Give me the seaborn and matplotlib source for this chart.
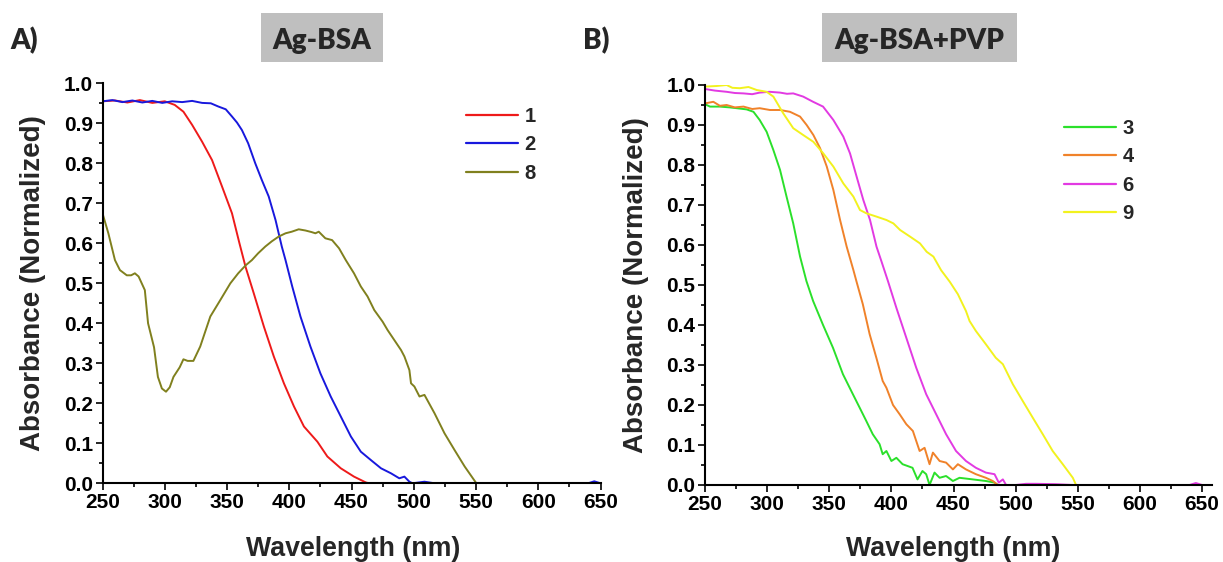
import numpy as np
import pandas as pd
import matplotlib
matplotlib.use("Agg")
import matplotlib.pyplot as plt
from matplotlib.patches import Rectangle
from matplotlib.ticker import MultipleLocator
import seaborn as sns

# ---------------- data ----------------
# Panel A: Ag-BSA
wl_1 = [250, 260, 270, 280, 290, 300, 308, 315, 322, 330, 338, 346, 354, 360, 365, 371.5, 379.6,
        387.6, 395.7, 403.8, 411.8, 422.6, 430.6, 441.4, 452, 461.6, 464.2, 500, 550, 600, 650]
ab_1 = [0.955, 0.957, 0.952, 0.958, 0.951, 0.955, 0.946, 0.929, 0.896, 0.854, 0.808, 0.742, 0.675,
        0.600, 0.540, 0.475, 0.392, 0.317, 0.250, 0.192, 0.142, 0.104, 0.067, 0.0375, 0.0167, 0.002,
        0.0, 0, 0, 0, 0]

wl_2 = [250, 258, 266, 274, 282, 290, 298, 306, 314, 322, 330, 337, 343, 349, 354, 358, 362, 367,
        372.7, 378, 383.5, 389, 394, 397, 402.4, 409, 417, 425, 433.3, 441.4, 449.5, 457.5, 465.6,
        473.7, 481.7, 488.4, 492.5, 496.5, 499, 508.6, 516.7, 550, 600, 640, 645, 650]
ab_2 = [0.955, 0.958, 0.953, 0.957, 0.952, 0.956, 0.951, 0.955, 0.953, 0.956, 0.951, 0.950, 0.942,
        0.935, 0.917, 0.902, 0.883, 0.850, 0.800, 0.758, 0.717, 0.658, 0.592, 0.558, 0.492, 0.417,
        0.342, 0.275, 0.217, 0.167, 0.117, 0.079, 0.058, 0.0375, 0.025, 0.0125, 0.0167, 0.004, 0.0,
        0.004, 0.0, 0, 0, 0, 0.005, 0]

wl_8 = [250, 254.7, 260, 264, 269.5, 273, 276, 279, 284, 286.6, 291.4, 294.5, 297.7, 301, 304, 307,
        312, 315, 318.4, 323, 328.5, 336.6, 344.6, 352.7, 359, 365, 370, 375, 380.8, 386, 391.6, 397,
        402, 407.6, 413, 418, 421, 423.7, 429, 434.4, 440, 445.4, 452, 457.5, 462.9, 468.3, 475, 479,
        484.4, 489.8, 492.5, 496.5, 497.8, 500.5, 504.6, 508.6, 516.7, 524.7, 532.8, 540.9, 550.3,
        600, 650]
ab_8 = [0.675, 0.625, 0.558, 0.533, 0.52, 0.52, 0.525, 0.517, 0.483, 0.40, 0.34, 0.266, 0.237, 0.229,
        0.24, 0.266, 0.29, 0.31, 0.306, 0.306, 0.342, 0.417, 0.458, 0.50, 0.525, 0.545, 0.558, 0.575,
        0.592, 0.605, 0.617, 0.625, 0.629, 0.635, 0.632, 0.628, 0.625, 0.629, 0.6125, 0.608, 0.5875,
        0.558, 0.525, 0.492, 0.467, 0.433, 0.404, 0.383, 0.358, 0.333, 0.317, 0.283, 0.25, 0.242,
        0.217, 0.221, 0.175, 0.125, 0.083, 0.042, 0.0, 0, 0]

# Panel B: Ag-BSA+PVP
wl_3 = [250, 254, 262, 270, 275.5, 283.5, 289, 294, 299.6, 305, 310.4, 315.7, 321, 326.5, 331.6, 337,
        345, 353, 361, 369, 374.5, 379.8, 385, 390.5, 393, 396, 400, 404, 409, 417, 421, 425, 428,
        430.7, 434.7, 438.8, 444, 449.5, 454.8, 465.5, 476, 483, 485.6, 550, 650]
ab_3 = [0.952, 0.946, 0.946, 0.944, 0.942, 0.939, 0.933, 0.9125, 0.883, 0.8375, 0.7875, 0.72, 0.654,
        0.571, 0.51, 0.46, 0.40, 0.343, 0.277, 0.227, 0.193, 0.16, 0.127, 0.102, 0.077, 0.085, 0.06,
        0.068, 0.052, 0.043, 0.014, 0.035, 0.027, 0.0, 0.031, 0.018, 0.0225, 0.01, 0.018, 0.014,
        0.01, 0.006, 0.0, 0, 0]

wl_4 = [250, 256.7, 262, 267.4, 274, 281, 288, 294, 302.3, 310.4, 318.4, 326.5, 331.8, 337.2, 342.6,
        348, 353.3, 358.7, 364, 369.4, 371.8, 377, 382.5, 387.9, 393, 396, 401.3, 406.6, 412, 417.3,
        422.7, 426.7, 430.7, 433.4, 438.8, 444, 449.5, 453.5, 460, 468, 476, 481.6, 485.6, 550, 650]
ab_4 = [0.954, 0.958, 0.948, 0.95, 0.944, 0.946, 0.940, 0.942, 0.9375, 0.9375, 0.933, 0.921, 0.90,
        0.875, 0.842, 0.796, 0.7375, 0.6625, 0.596, 0.5375, 0.51, 0.452, 0.377, 0.318, 0.26, 0.243,
        0.20, 0.177, 0.152, 0.135, 0.085, 0.093, 0.052, 0.081, 0.06, 0.056, 0.039, 0.052, 0.039,
        0.027, 0.018, 0.01, 0.0, 0, 0]

wl_6 = [250, 258, 267.4, 274, 281, 288, 294, 302, 310.4, 316, 321, 329, 337, 345, 353.3, 361.3, 366.7,
        372, 377.4, 382.8, 388, 391.9, 397.2, 404, 412, 420, 428, 436, 444, 452, 460, 468, 476, 483,
        486.4, 489.7, 492.3, 500, 508.4, 516.4, 532.5, 546, 600, 640, 645, 650]
ab_6 = [0.99, 0.986, 0.983, 0.980, 0.979, 0.977, 0.981, 0.983, 0.981, 0.978, 0.979, 0.971, 0.958,
        0.946, 0.9125, 0.871, 0.829, 0.771, 0.7125, 0.6625, 0.596, 0.56, 0.51, 0.443, 0.368, 0.293,
        0.227, 0.177, 0.127, 0.085, 0.06, 0.043, 0.031, 0.027, 0.006, 0.014, 0.0, 0.0, 0.003, 0.003,
        0.002, 0.0, 0, 0, 0.005, 0]

wl_9 = [250, 259.4, 267.4, 272, 278, 285, 291.6, 299.6, 305, 313, 321, 329, 337.2, 345.2, 353.3,
        361.3, 369.4, 374.7, 380, 388, 396, 401.6, 407, 415, 423, 428.4, 433.8, 440, 447, 453.5, 460,
        462.9, 468, 476, 484, 489.7, 497.7, 505.7, 513.8, 521.8, 529.8, 537.9, 546, 548.6, 600, 650]
ab_9 = [0.996, 0.9975, 1.0, 0.993, 0.992, 0.995, 0.9875, 0.983, 0.971, 0.929, 0.892, 0.875, 0.858,
        0.829, 0.796, 0.754, 0.721, 0.6875, 0.679, 0.671, 0.6625, 0.654, 0.6375, 0.621, 0.604, 0.583,
        0.571, 0.537, 0.508, 0.477, 0.435, 0.41, 0.385, 0.352, 0.318, 0.302, 0.252, 0.21, 0.168,
        0.127, 0.085, 0.052, 0.018, 0.0, 0, 0]

labels_A = ["1", "2", "8"]
labels_B = ["3", "4", "6", "9"]
colors_A = ["#EE1A1A", "#1818DD", "#80801E"]
colors_B = ["#2BE02B", "#F0822A", "#E23AE2", "#F2F21E"]
titles = ["Ag-BSA", "Ag-BSA+PVP"]
panel_tags = ["A)", "B)"]
x_ticks = [250, 300, 350, 400, 450, 500, 550, 600, 650]
y_ticks = [0.0, 0.1, 0.2, 0.3, 0.4, 0.5, 0.6, 0.7, 0.8, 0.9, 1.0]


def frame(wls, abss, labels):
    parts = [pd.DataFrame({"wl": w, "ab": a, "sample": lab}) for w, a, lab in zip(wls, abss, labels)]
    return pd.concat(parts, ignore_index=True)


df_A = frame([wl_1, wl_2, wl_8], [ab_1, ab_2, ab_8], labels_A)
df_B = frame([wl_3, wl_4, wl_6, wl_9], [ab_3, ab_4, ab_6, ab_9], labels_B)

# ---------------- style ----------------
sns.set_theme(style="ticks")
plt.rcParams["font.family"] = ["Liberation Sans", "DejaVu Sans"]
plt.rcParams["font.weight"] = "bold"
plt.rcParams["axes.labelweight"] = "bold"

W, H = 1223, 562
fig = plt.figure(figsize=(W / 100, H / 100), dpi=100)
fig.patch.set_facecolor("white")

def px_rect(x0, x1, y_top, y_bot):
    return [x0 / W, 1 - y_bot / H, (x1 - x0) / W, (y_bot - y_top) / H]

axA = fig.add_axes(px_rect(102.5, 600.5, 83.3, 483.3))
axB = fig.add_axes(px_rect(705, 1212, 85, 485))

sns.lineplot(data=df_A, x="wl", y="ab", hue="sample", hue_order=labels_A, palette=colors_A,
             estimator=None, sort=False, linewidth=1.4, ax=axA)
sns.lineplot(data=df_B, x="wl", y="ab", hue="sample", hue_order=labels_B, palette=colors_B,
             estimator=None, sort=False, linewidth=1.4, ax=axB)

for ax, xmax in ((axA, 650), (axB, 658)):
    ax.set_xlim(250, xmax)
    ax.set_ylim(0, 1.0)
    ax.set_xticks(x_ticks)
    ax.set_yticks(y_ticks)
    ax.set_yticklabels([f"{v:.1f}" for v in y_ticks])
    ax.xaxis.set_minor_locator(MultipleLocator(25))
    ax.yaxis.set_minor_locator(MultipleLocator(0.05))
    for s in ("top", "right"):
        ax.spines[s].set_visible(False)
    for s in ("left", "bottom"):
        ax.spines[s].set_linewidth(1.5)
        ax.spines[s].set_color("black")
    ax.tick_params(which="major", direction="out", length=5, width=1.2, labelsize=15,
                   colors="black", pad=2)
    ax.tick_params(which="minor", direction="out", length=2.6, width=1.2, colors="black")
    for t in ax.get_xticklabels() + ax.get_yticklabels():
        t.set_fontweight("bold")
    ax.set_xlabel("Wavelength (nm)", fontsize=19.3, fontweight="bold")
    ax.set_ylabel("Absorbance (Normalized)", fontsize=20, fontweight="bold")
    ax.set_facecolor("white")

axA.xaxis.set_label_coords(0.503, -0.132)
axB.xaxis.set_label_coords(0.489, -0.127)
axA.yaxis.set_label_coords(-0.113, 0.5)
axB.yaxis.set_label_coords(-0.110, 0.5)

# legends
for ax, anchor in ((axA, (466 / W, 1 - 107 / H)), (axB, (1064 / W, 1 - 119 / H))):
    leg = ax.legend(loc="upper left", bbox_to_anchor=anchor, bbox_transform=fig.transFigure,
                    frameon=False, fontsize=14.5, handlelength=2.6, handletextpad=0.3,
                    labelspacing=0.47, borderpad=0, borderaxespad=0, title=None)
    for line in leg.get_lines():
        line.set_linewidth(1.6)
    for t in leg.get_texts():
        t.set_fontweight("bold")

# title boxes and panel tags
box_spans = [(261, 383), (822, 1017)]
tag_x = [10, 583]
for (x0, x1), title, tag, tx in zip(box_spans, titles, panel_tags, tag_x):
    fig.patches.append(Rectangle((x0 / W, 1 - 62.3 / H), (x1 - x0) / W, 49.6 / H,
                                 transform=fig.transFigure, facecolor="#BFBFBF",
                                 edgecolor="none", zorder=0))
    fig.text((x0 + x1) / 2 / W, 1 - 49 / H, title, ha="center", va="baseline",
             fontsize=20, fontweight="heavy", family=["Lato", "DejaVu Sans"])
    fig.text(tx / W, 1 - 49 / H, tag, ha="left", va="baseline",
             fontsize=20, fontweight="heavy", family=["Lato", "DejaVu Sans"])

fig.savefig("out.png", dpi=100, facecolor="white")
